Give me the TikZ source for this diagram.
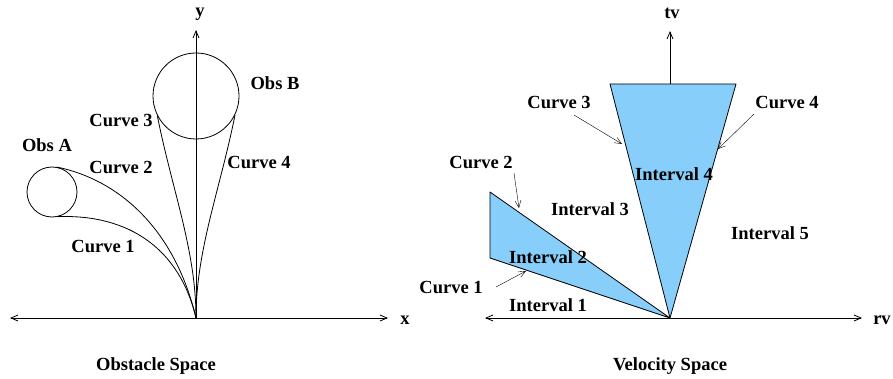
\documentclass[tikz,border=0pt]{standalone}
\usepackage{fontspec}
\setmainfont{Liberation Serif}
\usepackage{tikz}
\usetikzlibrary{arrows.meta}
\definecolor{skyfill}{RGB}{135,206,250}

\begin{document}
\begin{tikzpicture}[x=1pt,y=-1pt,>={Straight Barb[length=7pt,width=6pt]},line join=round,
  lbl/.style={font=\bfseries\fontsize{18.5}{20}\selectfont,inner sep=1pt},
  obs/.style={circle,draw,inner sep=0pt,line width=0.8pt},
  curv/.style={line width=0.8pt},
  axis/.style={line width=0.8pt},
  region/.style={fill=skyfill,draw,line width=0.8pt}]
\useasboundingbox (0,0) rectangle (893,379);
% obstacle space
\begin{scope}
\coordinate (O) at (196,318);
\coordinate (xl) at (10,318);
\coordinate (xr) at (388,318);
\coordinate (yt) at (196,30);
\draw[axis,<->] (xl) -- (xr);
\draw[axis,->] (O) -- (yt);
\node[lbl] (xlab) at (405,320) {x};
\node[lbl] (ylab) at (200,14) {y};
\node[obs,minimum size=86pt] (obsB) at (196,96) {};
\node[obs,minimum size=50pt] (obsA) at (52,192) {};
\draw[curv] (obsA.79) .. controls (120,180) and (175,230) .. (O);
\draw[curv] (obsA.284) .. controls (130,214) and (180,250) .. (O);
\draw[curv] (obsB.207) .. controls (172,190) and (196,250) .. (O);
\draw[curv] (obsB.334) .. controls (220,190) and (196,250) .. (O);
\node[lbl] (obsBlab) at (275,83) {Obs B};
\node[lbl] (obsAlab) at (47,145) {Obs A};
\node[lbl] (c3) at (121,120) {Curve 3};
\node[lbl] (c2) at (121,167) {Curve 2};
\node[lbl] (c4) at (259,162) {Curve 4};
\node[lbl] (c1) at (103,246) {Curve 1};
\node[lbl] (osp) at (156,366) {Obstacle Space};
\end{scope}
% velocity space
\begin{scope}
\coordinate (P) at (670,318);
\coordinate (rl) at (485,318);
\coordinate (rr) at (862,318);
\coordinate (tb) at (670,84);
\coordinate (tt) at (670,31);
\draw[axis,<->] (rl) -- (rr);
\filldraw[region] (610,84) -- (736,84) -- (P) -- cycle;
\filldraw[region] (490,192) -- (490,258) -- (P) -- cycle;
\draw[axis,->] (tb) -- (tt);
\node[lbl] (rvlab) at (882,320) {rv};
\node[lbl] (tvlab) at (672,13) {tv};
\node[lbl] (vc3) at (559,102) {Curve 3};
\node[lbl] (vc4) at (787,102) {Curve 4};
\node[lbl] (vc2) at (481,162) {Curve 2};
\node[lbl] (vc1) at (451,287) {Curve 1};
\node[lbl] (iv4) at (674,174) {Interval 4};
\node[lbl] (iv3) at (590,209) {Interval 3};
\node[lbl] (iv5) at (770,233) {Interval 5};
\node[lbl] (iv2) at (548,257) {Interval 2};
\node[lbl] (iv1) at (548,305) {Interval 1};
\node[lbl] (vsp) at (670,366) {Velocity Space};
% pointers onto the boundary curves
\coordinate (a3s) at (574,115); \coordinate (a3e) at (622,144);
\coordinate (a4s) at (754,114); \coordinate (a4e) at (718,149);
\coordinate (a2s) at (514,173); \coordinate (a2e) at (519,208);
\coordinate (a1s) at (496,287); \coordinate (a1e) at (526,271);
\draw[->] (a3s) -- (a3e);
\draw[->] (a4s) -- (a4e);
\draw[->] (a2s) -- (a2e);
\draw[->] (a1s) -- (a1e);
\end{scope}
\end{tikzpicture}
\end{document}
